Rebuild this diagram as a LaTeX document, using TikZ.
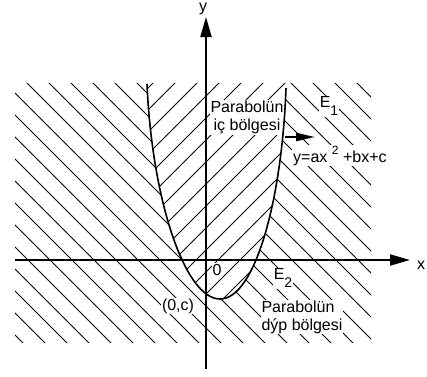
\documentclass[tikz,border=0pt]{standalone}
\usepackage{fontspec}
\setmainfont{Liberation Sans}
\usetikzlibrary{arrows.meta}
\begin{document}
\begin{tikzpicture}[x=1pt,y=-1pt,
  axis/.style={line width=2pt,-{Triangle[length=20pt,width=11pt]}},
  hatch/.style={line width=0.9pt},
  lbl/.style={fill=white,inner sep=1pt,font=\fontsize{16}{18}\selectfont}]
\useasboundingbox (0,0) rectangle (427,376);

\def\parab{(147,84) .. controls (152,200) and (185,299) .. (220,299) .. controls (255,299) and (282,200) .. (286,88)}

% hatching
\begin{scope}
\clip (15,83) rectangle (371,342);
\foreach \c in {-342,-320,...,300}
  \draw[hatch] (\c,0) -- (\c+400,400);
\fill[white] \parab -- (286,83) -- (147,83) -- cycle;
\clip \parab -- (286,83) -- (147,83) -- cycle;
\foreach \c in {214,236,...,544}
  \draw[hatch] (\c,0) -- (\c-400,400);
\end{scope}

% labels
\node[lbl,fill=none,inner sep=0pt] (ylab) at (203,9) {y};
\node[lbl,fill=none] (xlab) at (421,265) {x};
\node[lbl,align=center] (ic) at (247,117.5) {Parabolün\\iç bölgesi};
\node[lbl] (E1) at (329,106) {E\raisebox{-8pt}{\fontsize{14}{14}\selectfont 1}};
\node[lbl,anchor=base west] (eq) at (292,162) {y=ax \raisebox{8pt}{\fontsize{12}{12}\selectfont 2} +bx+c};
\node[lbl] (zero) at (217,270) {0};
\node[lbl] (E2) at (283,278) {E\raisebox{-8pt}{\fontsize{14}{14}\selectfont 2}};
\node[lbl] (c) at (178,306) {(0,c)};
\node[lbl,align=left] (dis) at (302,317) {Parabolün\\dýp bölgesi};

\coordinate (xl) at (15,260);
\coordinate (xr) at (410,260);
\coordinate (yb) at (206,369);
\coordinate (yt) at (206,17);
\draw[axis] (xl) -- (xr);
\draw[axis] (yb) -- (yt);

\draw[line width=1.6pt] \parab;

\coordinate (pa) at (285,137);
\coordinate (pb) at (315,137);
\draw[line width=2pt,-{Triangle[length=19pt,width=8pt]}] (pa) -- (pb);

\end{tikzpicture}
\end{document}
